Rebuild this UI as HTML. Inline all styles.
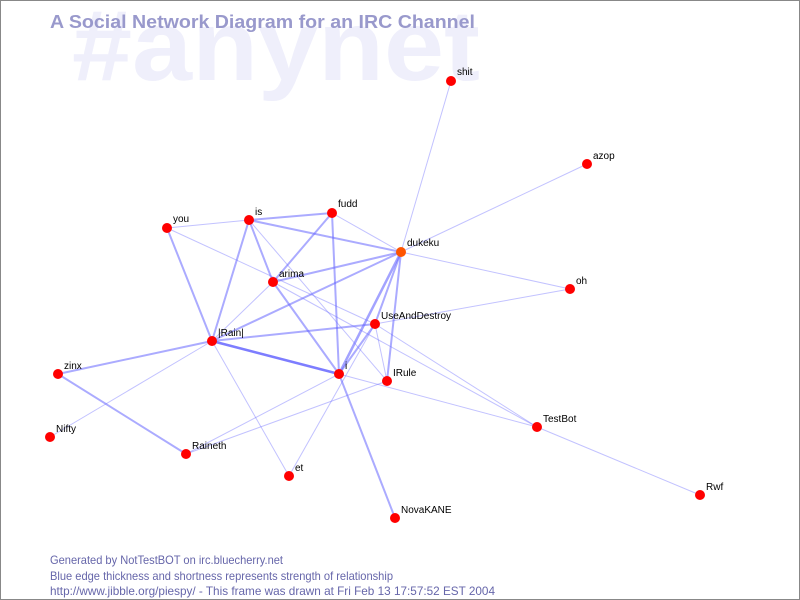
<!DOCTYPE html>
<html><head><style>
html,body{margin:0;padding:0;background:#fff;}
svg{display:block;}
</style></head><body>
<svg width="800" height="600" xmlns="http://www.w3.org/2000/svg" font-family="'Liberation Sans','DejaVu Sans',sans-serif">
<rect x="0.5" y="0.5" width="799" height="599" fill="#fff" stroke="#888"/>
<text x="72" y="80" font-size="100" font-weight="bold" fill="#efeffb" textLength="408" lengthAdjust="spacingAndGlyphs">#anynet</text>
<text x="50" y="28" font-size="18" font-weight="bold" fill="#9999cc" textLength="425" lengthAdjust="spacingAndGlyphs">A Social Network Diagram for an IRC Channel</text>
<g stroke="#6666ff" fill="none" stroke-linecap="round">
<g stroke-opacity="0.4" stroke-width="1">
<line x1="451" y1="81" x2="401" y2="252"/>
<line x1="587" y1="164" x2="401" y2="252"/>
<line x1="167" y1="228" x2="249" y2="220"/>
<line x1="167" y1="228" x2="375" y2="324"/>
<line x1="249" y1="220" x2="387" y2="381"/>
<line x1="332" y1="213" x2="401" y2="252"/>
<line x1="401" y1="252" x2="570" y2="289"/>
<line x1="273" y1="282" x2="537" y2="427"/>
<line x1="375" y1="324" x2="570" y2="289"/>
<line x1="212" y1="341" x2="50" y2="437"/>
<line x1="212" y1="341" x2="273" y2="282"/>
<line x1="212" y1="341" x2="289" y2="476"/>
<line x1="186" y1="454" x2="387" y2="381"/>
<line x1="186" y1="454" x2="339" y2="374"/>
<line x1="289" y1="476" x2="375" y2="324"/>
<line x1="339" y1="374" x2="537" y2="427"/>
<line x1="375" y1="324" x2="387" y2="381"/>
<line x1="375" y1="324" x2="537" y2="427"/>
<line x1="537" y1="427" x2="700" y2="495"/>
</g>
<g stroke-opacity="0.55" stroke-width="2">
<line x1="167" y1="228" x2="212" y2="341"/>
<line x1="249" y1="220" x2="332" y2="213"/>
<line x1="249" y1="220" x2="401" y2="252"/>
<line x1="249" y1="220" x2="273" y2="282"/>
<line x1="249" y1="220" x2="212" y2="341"/>
<line x1="273" y1="282" x2="339" y2="374"/>
<line x1="332" y1="213" x2="273" y2="282"/>
<line x1="332" y1="213" x2="339" y2="374"/>
<line x1="401" y1="252" x2="273" y2="282"/>
<line x1="401" y1="252" x2="212" y2="341"/>
<line x1="401" y1="252" x2="387" y2="381"/>
<line x1="401" y1="252" x2="375" y2="324"/>
<line x1="212" y1="341" x2="375" y2="324"/>
<line x1="212" y1="341" x2="58" y2="374"/>
<line x1="58" y1="374" x2="186" y2="454"/>
<line x1="339" y1="374" x2="395" y2="518"/>
<line x1="375" y1="324" x2="339" y2="374"/>
</g>
<line x1="401" y1="252" x2="339" y2="374" stroke-opacity="0.6" stroke-width="2.5"/>
<line x1="212" y1="341" x2="339" y2="374" stroke-opacity="0.85" stroke-width="2.5"/>
</g>
<g fill="#ff0000">
<circle cx="451" cy="81" r="5"/><circle cx="587" cy="164" r="5"/><circle cx="167" cy="228" r="5"/>
<circle cx="249" cy="220" r="5"/><circle cx="332" cy="213" r="5"/><circle cx="401" cy="252" r="5" fill="#ff5500"/>
<circle cx="273" cy="282" r="5"/><circle cx="570" cy="289" r="5"/><circle cx="375" cy="324" r="5"/>
<circle cx="212" cy="341" r="5"/><circle cx="58" cy="374" r="5"/><circle cx="339" cy="374" r="5"/>
<circle cx="387" cy="381" r="5"/><circle cx="537" cy="427" r="5"/><circle cx="50" cy="437" r="5"/>
<circle cx="186" cy="454" r="5"/><circle cx="289" cy="476" r="5"/><circle cx="700" cy="495" r="5"/>
<circle cx="395" cy="518" r="5"/>
</g>
<g font-size="10" fill="#000">
<text x="457" y="75">shit</text><text x="593" y="159">azop</text><text x="173" y="222">you</text>
<text x="255" y="215">is</text><text x="338" y="207">fudd</text><text x="407" y="246">dukeku</text>
<text x="279" y="277">arima</text><text x="576" y="284">oh</text><text x="381" y="319">UseAndDestroy</text>
<text x="218" y="336">|Rain|</text><text x="64" y="369">zinx</text><text x="345" y="369">i</text>
<text x="393" y="376">IRule</text><text x="543" y="422">TestBot</text><text x="56" y="432">Nifty</text>
<text x="192" y="449">Raineth</text><text x="295" y="471">et</text><text x="706" y="490">Rwf</text>
<text x="401" y="513">NovaKANE</text>
</g>
<g font-size="12" fill="#6666aa" lengthAdjust="spacingAndGlyphs">
<text x="50" y="564" textLength="233" lengthAdjust="spacingAndGlyphs">Generated by NotTestBOT on irc.bluecherry.net</text>
<text x="50" y="580" textLength="343" lengthAdjust="spacingAndGlyphs">Blue edge thickness and shortness represents strength of relationship</text>
<text x="50" y="595" textLength="445" lengthAdjust="spacingAndGlyphs">http://www.jibble.org/piespy/ - This frame was drawn at Fri Feb 13 17:57:52 EST 2004</text>
</g>
</svg>
</body></html>
